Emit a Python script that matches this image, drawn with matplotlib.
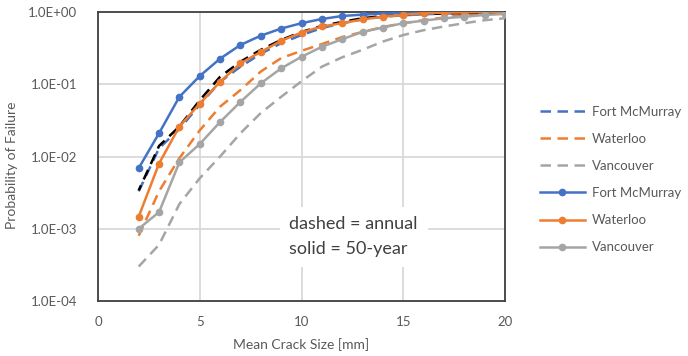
import matplotlib
matplotlib.use("Agg")
import matplotlib.pyplot as plt
from matplotlib.ticker import FixedLocator, FuncFormatter

plt.rcParams['font.family'] = ['Lato', 'DejaVu Sans']

# Mean crack size [mm]
crack_size = list(range(2, 21))

# Annual probability of failure (dashed)
fort_mcmurray_annual = [0.0033, 0.013, 0.024, 0.052, 0.108, 0.175, 0.265, 0.37, 0.48,
                        0.60, 0.70, 0.79, 0.86, 0.90, 0.93, 0.95, 0.97, 0.98, 0.98]
waterloo_annual = [0.0008, 0.0033, 0.0095, 0.023, 0.049, 0.083, 0.15, 0.23, 0.29,
                   0.36, 0.45, 0.53, 0.62, 0.70, 0.77, 0.84, 0.91, 0.96, 0.98]
vancouver_annual = [0.0003, 0.0006, 0.0022, 0.0050, 0.010, 0.021, 0.040, 0.067, 0.110,
                    0.175, 0.236, 0.30, 0.39, 0.48, 0.56, 0.63, 0.70, 0.77, 0.82]
reference_annual = [0.0034, 0.014, 0.026, 0.060, 0.127, 0.205, 0.30, 0.41, 0.53,
                    0.64, 0.73, 0.82, 0.88, 0.91, 0.94, 0.95, 0.97, 0.98, 0.98]

# 50-year probability of failure (solid with markers)
fort_mcmurray_50yr = [0.0069, 0.021, 0.067, 0.13, 0.226, 0.35, 0.47, 0.59, 0.70,
                      0.80, 0.88, 0.92, 0.95, 0.97, 0.98, 0.99, 1.0, 1.0, 1.0]
waterloo_50yr = [0.00147, 0.0080, 0.026, 0.054, 0.108, 0.195, 0.28, 0.40, 0.52,
                 0.63, 0.70, 0.79, 0.86, 0.91, 0.96, 0.98, 0.99, 1.0, 1.0]
vancouver_50yr = [0.0010, 0.0017, 0.0083, 0.0149, 0.030, 0.057, 0.103, 0.166, 0.24,
                  0.33, 0.42, 0.53, 0.61, 0.70, 0.76, 0.82, 0.86, 0.91, 0.94]

x_ticks = [0, 5, 10, 15, 20]
y_ticks = [1e-4, 1e-3, 1e-2, 1e-1, 1e0]

blue = '#4472C4'
orange = '#ED7D31'
gray = '#A5A5A5'
text_gray = '#595959'

fig = plt.figure(figsize=(6.88, 3.56), dpi=100)
ax = fig.add_axes([98 / 688, 1 - 301 / 356, 407 / 688, 289 / 356])

dash = (0, (4.2, 2.6))
lw = 1.8
ax.plot(crack_size, fort_mcmurray_annual, color=blue, lw=lw, ls=dash, label='Fort McMurray', zorder=3)
ax.plot(crack_size, waterloo_annual, color=orange, lw=lw, ls=dash, label='Waterloo', zorder=3)
ax.plot(crack_size, vancouver_annual, color=gray, lw=lw, ls=dash, label='Vancouver', zorder=3)
ax.plot(crack_size, reference_annual, color='black', lw=lw, ls=(2, (4.2, 2.6)), zorder=4)

ax.plot(crack_size, fort_mcmurray_50yr, color=blue, lw=lw, marker='o', ms=4.5, label='Fort McMurray', zorder=5)
ax.plot(crack_size, waterloo_50yr, color=orange, lw=lw, marker='o', ms=4.5, label='Waterloo', zorder=5)
ax.plot(crack_size, vancouver_50yr, color=gray, lw=lw, marker='o', ms=4.5, label='Vancouver', zorder=5)

ax.set_yscale('log')
ax.set_xlim(0, 20)
ax.set_ylim(1e-4, 1e0)
ax.xaxis.set_major_locator(FixedLocator(x_ticks))
ax.yaxis.set_major_locator(FixedLocator(y_ticks))
ax.yaxis.set_minor_locator(FixedLocator([]))
ax.yaxis.set_major_formatter(FuncFormatter(lambda v, p: '{:.1E}'.format(v)))

ax.grid(True, color='#D9D9D9', lw=1.3, zorder=0)
ax.set_axisbelow(True)
for s in ax.spines.values():
    s.set_color('#404040')
    s.set_linewidth(1.3)
ax.tick_params(axis='both', length=0, labelcolor=text_gray, labelsize=9.5)
ax.tick_params(axis='y', pad=15)
ax.tick_params(axis='x', pad=11)

ax.set_xlabel('Mean Crack Size [mm]', color=text_gray, fontsize=10, labelpad=7)
ax.set_ylabel('Probability of Failure', color=text_gray, fontsize=10)
ax.yaxis.set_label_coords(-0.197, 0.47)

ax.text(9.4, 7.8e-4, 'dashed = annual\nsolid = 50-year', fontsize=13, color='#404040',
        ha='left', va='center', linespacing=1.65, zorder=6,
        bbox=dict(facecolor='white', edgecolor='none', pad=7))

fig.legend(loc='center left', bbox_to_anchor=(540 / 688, 1 - 179.5 / 356), frameon=False,
           borderpad=0, borderaxespad=0, fontsize=9.5, handlelength=3.4,
           handletextpad=0.55, labelspacing=1.15, labelcolor=text_gray)

fig.savefig('out.png', dpi=100)
